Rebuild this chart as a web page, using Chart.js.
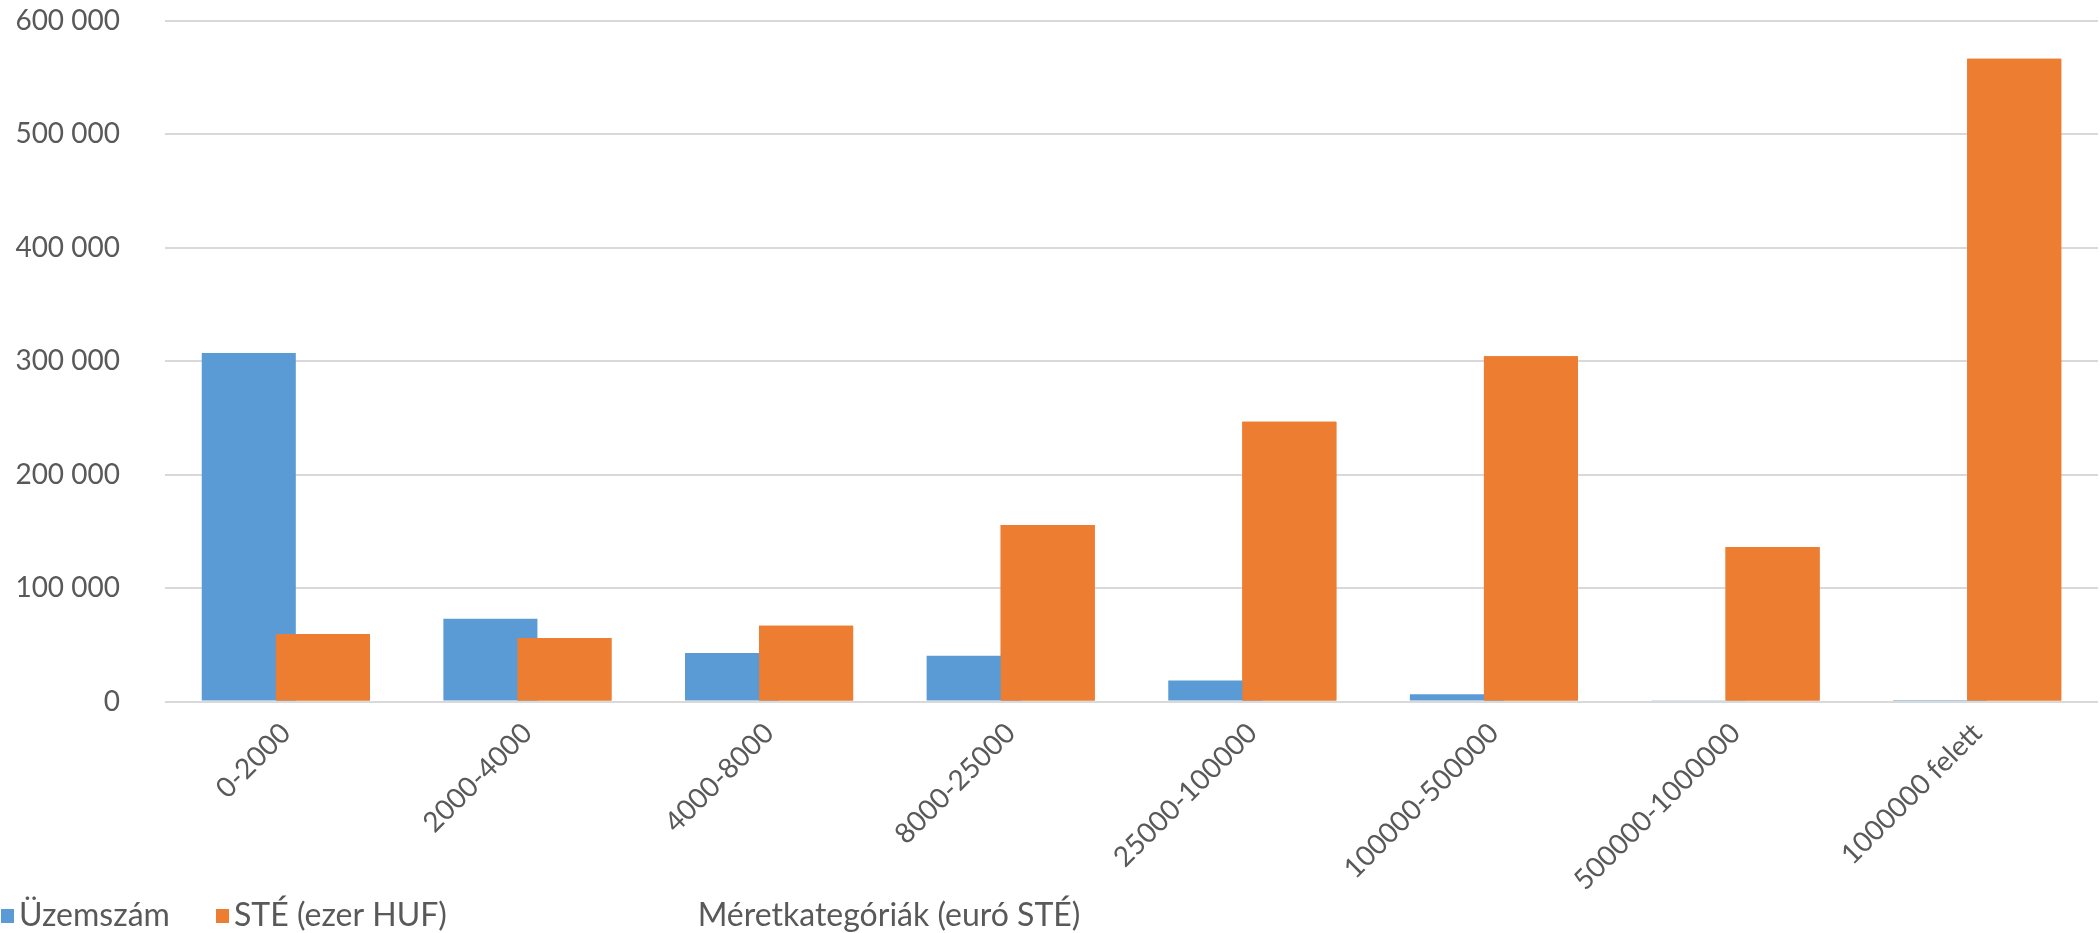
<!DOCTYPE html>
<html>
<head>
<meta charset="utf-8">
<title>Méretkategóriák</title>
<script src="https://cdn.jsdelivr.net/npm/chart.js@4/dist/chart.umd.min.js"></script>
<style>
  html, body { margin: 0; padding: 0; background: #ffffff; }
  #wrap { width: 2100px; height: 933px; position: relative; }
</style>
</head>
<body>
<div id="wrap"><canvas id="chart" width="2100" height="933"></canvas></div>
<script>
// Size categories (euro standard output) and the two series
const categories = ['0-2000', '2000-4000', '4000-8000', '8000-25000', '25000-100000', '100000-500000', '500000-1000000', '1000000 felett'];
const uzemszam = [307300, 73100, 42900, 40500, 18600, 6500, 700, 500];
const ste = [59700, 56000, 66800, 155700, 246700, 304500, 136400, 566800];
const yTicks = [0, 100000, 200000, 300000, 400000, 500000, 600000];
const seriesNames = ['Üzemszám', 'STÉ (ezer HUF)'];
const axisTitle = 'Méretkategóriák (euró STÉ)';

const FONT = 'Lato, "Open Sans", sans-serif';
const TEXT = '#595959';
const GRID = '#d9d9d9';
const BLUE = '#5b9bd5';
const ORANGE = '#ed7d31';

function thousands(v) {
  return String(v).replace(/\B(?=(\d{3})+(?!\d))/g, ' ');
}

// The bars of a category overlap slightly; the STÉ series is repainted
// last so it sits in front of Üzemszám.
const frontSeries = {
  id: 'frontSeries',
  afterDatasetsDraw(chart) {
    const meta = chart.getDatasetMeta(1);
    if (meta && !meta.hidden) meta.controller.draw();
  }
};

// Legend and axis title share the bottom strip, laid out side by side
const bottomStrip = {
  id: 'bottomStrip',
  afterDraw(chart) {
    const ctx = chart.ctx;
    const y = 916;
    ctx.save();
    ctx.font = '32px ' + FONT;
    ctx.textBaseline = 'middle';
    ctx.textAlign = 'left';
    let x = 1;
    chart.data.datasets.forEach(ds => {
      ctx.fillStyle = ds.backgroundColor;
      ctx.fillRect(x, y - 7, 13, 14);
      ctx.fillStyle = TEXT;
      ctx.fillText(ds.label, x + 18, y);
      x += 215;
    });
    ctx.textAlign = 'center';
    ctx.fillText(axisTitle, 889, y);
    ctx.restore();
  }
};

new Chart(document.getElementById('chart'), {
  type: 'bar',
  data: {
    labels: categories,
    datasets: [
      { label: seriesNames[0], data: uzemszam, backgroundColor: BLUE, borderWidth: 0 },
      { label: seriesNames[1], data: ste, backgroundColor: ORANGE, borderWidth: 0 }
    ]
  },
  options: {
    responsive: false,
    animation: false,
    devicePixelRatio: 1,
    categoryPercentage: 0.613,
    barPercentage: 1.27,
    layout: { padding: { left: 13, right: 2, top: 21, bottom: 21 } },
    plugins: {
      legend: { display: false },
      tooltip: { enabled: false }
    },
    scales: {
      x: {
        grid: { display: false, drawTicks: false },
        border: { display: false },
        ticks: {
          color: TEXT,
          font: { family: FONT, size: 28 },
          minRotation: 45,
          maxRotation: 45,
          padding: 15,
          autoSkip: false
        }
      },
      y: {
        min: 0,
        max: 600000,
        afterBuildTicks(scale) { scale.ticks = yTicks.map(v => ({ value: v })); },
        afterFit(scale) { scale.width = 152; },
        grid: { color: GRID, lineWidth: 2, drawTicks: true, tickLength: 45, tickColor: 'rgba(0,0,0,0)' },
        border: { display: false },
        ticks: {
          color: TEXT,
          font: { family: FONT, size: 28 },
          padding: 0,
          callback: v => thousands(v)
        }
      }
    }
  },
  plugins: [frontSeries, bottomStrip]
});
</script>
</body>
</html>
